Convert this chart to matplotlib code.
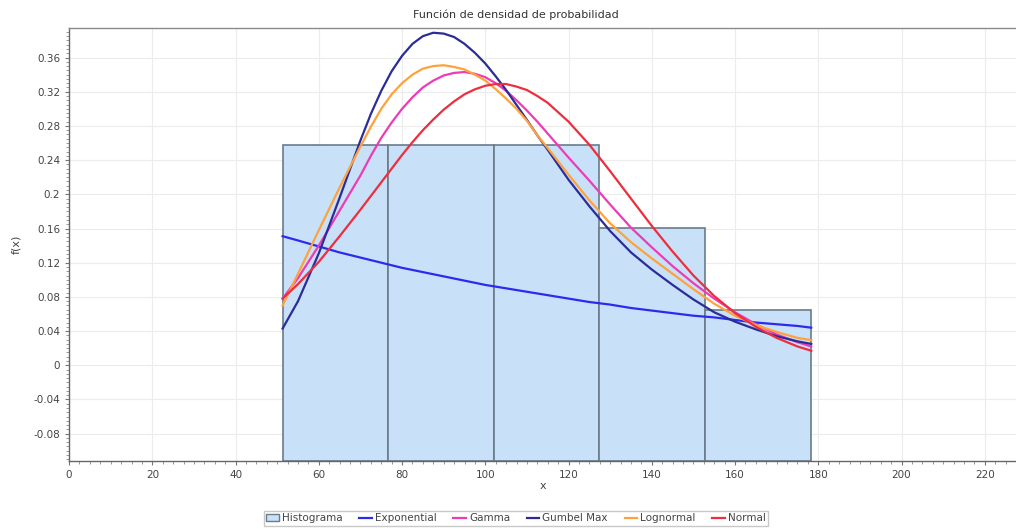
import matplotlib
matplotlib.use("Agg")
import matplotlib.pyplot as plt
import matplotlib.ticker as ticker
from matplotlib.patches import Patch
from matplotlib.lines import Line2D
import numpy as np

# histogram (relative frequency per bin)
bin_edges = [51.3, 76.7, 102.0, 127.4, 152.8, 178.3]
hist_heights = [0.258, 0.258, 0.258, 0.161, 0.065]

# fitted densities, sampled along x (denser around the peaks)
x_pts = [51.3, 55, 60, 65, 70, 72.5, 75, 77.5, 80, 82.5, 85, 87.5, 90, 92.5,
         95, 97.5, 100, 102.5, 105, 107.5, 110, 112.5, 115, 120, 125, 130, 135,
         140, 145, 150, 155, 160, 165, 170, 175, 178.3]
exponential = [0.151, 0.146, 0.139, 0.132, 0.126, 0.123, 0.120, 0.117, 0.114,
               0.1115, 0.109, 0.1065, 0.104, 0.1015, 0.099, 0.0965, 0.094, 0.092,
               0.090, 0.088, 0.086, 0.084, 0.082, 0.078, 0.074, 0.071, 0.067,
               0.064, 0.061, 0.058, 0.056, 0.053, 0.050, 0.048, 0.046, 0.044]
gamma = [0.078, 0.102, 0.140, 0.181, 0.222, 0.245, 0.266, 0.284, 0.300, 0.3135,
         0.325, 0.333, 0.339, 0.342, 0.343, 0.341, 0.337, 0.330, 0.321, 0.310,
         0.298, 0.285, 0.271, 0.243, 0.216, 0.188, 0.161, 0.138, 0.116, 0.096,
         0.078, 0.062, 0.048, 0.036, 0.027, 0.022]
gumbel_max = [0.043, 0.075, 0.131, 0.196, 0.263, 0.294, 0.321, 0.344, 0.362,
              0.376, 0.385, 0.389, 0.388, 0.384, 0.376, 0.3655, 0.353, 0.338,
              0.322, 0.3045, 0.287, 0.269, 0.252, 0.217, 0.186, 0.157, 0.132,
              0.112, 0.094, 0.077, 0.062, 0.051, 0.042, 0.034, 0.028, 0.025]
lognormal = [0.070, 0.107, 0.158, 0.208, 0.256, 0.279, 0.300, 0.317, 0.330,
             0.340, 0.347, 0.350, 0.351, 0.349, 0.346, 0.340, 0.333, 0.323,
             0.312, 0.300, 0.286, 0.269, 0.254, 0.223, 0.193, 0.166, 0.144,
             0.125, 0.107, 0.089, 0.072, 0.058, 0.047, 0.039, 0.032, 0.0295]
normal = [0.078, 0.095, 0.121, 0.151, 0.182, 0.198, 0.214, 0.230, 0.246, 0.261,
          0.275, 0.2875, 0.299, 0.3087, 0.317, 0.3228, 0.327, 0.329, 0.329,
          0.326, 0.322, 0.315, 0.307, 0.285, 0.258, 0.227, 0.195, 0.163, 0.133,
          0.105, 0.081, 0.061, 0.045, 0.032, 0.022, 0.017]

series = [
    ("Exponential", exponential, "#2b2bf0"),
    ("Gamma", gamma, "#ec3cb6"),
    ("Gumbel Max", gumbel_max, "#2c2c98"),
    ("Lognormal", lognormal, "#ffa23c"),
    ("Normal", normal, "#ee2e3e"),
]

x_min, x_max = 0, 227.5
y_min, y_max = -0.112, 0.3945

plt.rcParams["font.family"] = ["DejaVu Sans"]
fig = plt.figure(figsize=(10.16, 5.29), dpi=100)
ax = fig.add_axes([0.068, 0.1285, 0.932, 0.8185])

# bars run down to the bottom of the plot area
edges = np.array(bin_edges)
ax.bar(edges[:-1], np.array(hist_heights) - y_min, width=np.diff(edges),
       bottom=y_min, align="edge", color="#c8e1f9", edgecolor="#6a7b8a",
       linewidth=1.2, zorder=2)

for name, vals, col in series:
    ax.plot(x_pts, vals, color=col, lw=1.6, zorder=3)

ax.set_xlim(x_min, x_max)
ax.set_ylim(y_min, y_max)
ax.xaxis.set_major_locator(ticker.MultipleLocator(20))
ax.xaxis.set_minor_locator(ticker.MultipleLocator(2.5))
ax.yaxis.set_major_locator(ticker.MultipleLocator(0.04))
ax.yaxis.set_minor_locator(ticker.MultipleLocator(0.005))
ax.yaxis.set_major_formatter(ticker.FuncFormatter(lambda v, p: "%g" % round(v, 2)))
ax.tick_params(which="major", length=3, color="#777777", labelsize=7.5,
               labelcolor="#444444", width=0.8)
ax.tick_params(which="minor", length=2, color="#888888", width=0.6)
ax.grid(True, which="major", color="#ececec", lw=0.8, zorder=0)
ax.set_axisbelow(True)

for side in ("left", "bottom"):
    ax.spines[side].set_color("#666666")
    ax.spines[side].set_linewidth(1.0)
ax.spines["top"].set_color("#8a8a8a")
ax.spines["top"].set_linewidth(1.0)
ax.spines["right"].set_visible(False)

ax.set_xlabel("x", fontsize=8, color="#444444", labelpad=1)
ax.set_ylabel("f(x)", fontsize=8, color="#444444", labelpad=9)

fig.text(0.508, 0.972, "Función de densidad de probabilidad", ha="center",
         va="center", fontsize=8, color="#333333")

handles = [Patch(facecolor="#c8e1f9", edgecolor="#6a7b8a", label="Histograma")]
handles += [Line2D([], [], color=col, lw=1.6, label=name) for name, _, col in series]
fig.legend(handles=handles, loc="lower center", bbox_to_anchor=(0.508, -0.004),
           ncol=6, fontsize=7.5, frameon=True, fancybox=False, edgecolor="#bbbbbb",
           handlelength=1.2, handletextpad=0.3, columnspacing=1.6,
           borderpad=0.25, labelcolor="#444444")

fig.savefig("out.png", dpi=100)
